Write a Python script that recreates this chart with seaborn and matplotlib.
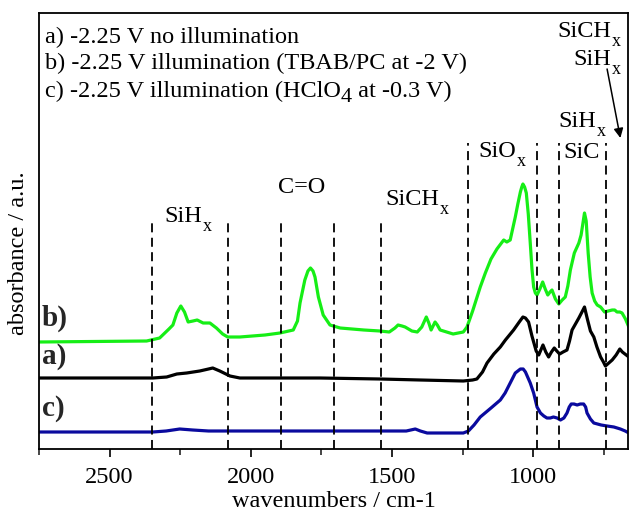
import numpy as np
import pandas as pd
import matplotlib
matplotlib.use("Agg")
import matplotlib.pyplot as plt
from matplotlib.ticker import MultipleLocator, NullLocator
from matplotlib.transforms import IdentityTransform
import seaborn as sns

# ---------------- data ----------------
wn_b = [2752, 2369, 2323, 2290, 2276, 2262, 2248, 2235, 2222, 2205, 2190, 2169, 2145, 2122,
        2100, 2082, 2039, 1950, 1897, 1850, 1835, 1826, 1809, 1798, 1789, 1780, 1773, 1761,
        1744, 1720, 1684, 1600, 1543, 1510, 1490, 1479, 1465, 1454, 1430, 1411, 1395, 1379,
        1370, 1362, 1348, 1340, 1330, 1284, 1248, 1235, 1215, 1206, 1188, 1170, 1150, 1129,
        1105, 1094, 1082, 1064, 1055, 1046, 1041, 1037, 1031, 1025, 1018, 1011, 1005, 999,
        993, 987, 977, 967, 958, 949, 941, 934, 922, 910, 898, 887, 878, 869, 855, 839, 831,
        819, 813, 806, 799, 792, 783, 774, 762, 748, 735, 721, 712, 704, 694, 686, 674, 662]
ab_b = [107, 108, 111, 120, 124, 136, 143, 137, 127, 128, 129, 126, 126, 121,
        115, 112, 112, 114, 116, 119, 128, 146, 169, 178, 181, 178, 172, 152,
        134, 124, 121, 119, 118, 117, 121, 124, 123, 122, 118, 117, 122, 132,
        126, 119, 127, 124, 119, 115, 117, 122, 138, 146, 162, 176, 190, 200,
        209, 207, 209, 232, 245, 257, 262, 265, 262, 256, 235, 206, 180, 162,
        156, 154, 160, 167, 160, 154, 157, 159, 150, 145, 149, 152, 163, 179, 196, 206, 214,
        236, 228, 196, 172, 156, 148, 144, 142, 137, 138, 139, 139, 137, 137, 136, 130, 122]

wn_a = [2752, 2500, 2347, 2298, 2262, 2227, 2181, 2150, 2135, 2110, 2074, 2039, 1755, 1543,
        1400, 1248, 1215, 1200, 1180, 1164, 1140, 1117, 1099, 1070, 1050, 1037, 1028, 1017,
        1005, 999, 990, 981, 972, 966, 956, 946, 936, 926, 917, 907, 895, 881, 872, 863,
        851, 839, 828, 819, 814, 808, 798, 786, 775, 762, 752, 745, 733, 721, 707, 694, 685, 662]
ab_a = [71, 71, 71, 72, 75, 76, 78, 80, 81, 78, 73, 71, 71, 70,
        69, 68, 69, 70, 77, 86, 95, 102, 109, 119, 127, 132, 131, 127,
        113, 107, 98, 94, 100, 104, 97, 92, 97, 101, 98, 95, 97, 99, 108, 119,
        125, 131, 137, 142, 136, 129, 118, 112, 102, 92, 87, 83, 86, 89, 94, 100, 97, 92]

wn_c = [2752, 2347, 2300, 2252, 2206, 2150, 1755, 1543, 1450, 1418, 1400, 1376, 1248, 1230,
        1210, 1188, 1150, 1117, 1100, 1082, 1064, 1046, 1036, 1028, 1011, 999, 987, 975,
        963, 952, 940, 929, 916, 904, 892, 881, 873, 866, 856, 845, 834, 822, 815, 810,
        798, 786, 760, 739, 715, 692, 675, 662]
ab_c = [17, 17, 18, 20, 19, 18, 18, 18, 18, 20, 18, 16, 16, 18,
        24, 32, 41, 49, 56, 66, 76, 80, 80, 77, 66, 56, 42, 36,
        33, 31, 31, 32, 31, 29, 31, 36, 42, 45, 45, 44, 45, 45, 42, 36,
        30, 26, 24, 23, 22, 20, 18, 16]

series_names = ["a", "b", "c"]
series_colors = {"a": "#000000", "b": "#16ee16", "c": "#0a0a9e"}

# text pieces: (main text, subscript, remainder)
legend_lines = [("a) -2.25 V no illumination", "", ""),
                ("b) -2.25 V illumination (TBAB/PC at -2 V)", "", ""),
                ("c) -2.25 V illumination (HClO", "4", " at -0.3 V)")]

band_labels = [("SiH", "x"), ("C=O", ""), ("SiCH", "x"), ("SiO", "x"),
               ("SiH", "x"), ("SiC", ""), ("SiCH", "x"), ("SiH", "x")]

region_lines_low = [2350, 2080, 1895, 1705, 1540]
region_lines_high = [1232, 988, 910, 742]

xticks_major = [2500, 2000, 1500, 1000]

# ---------------- figure ----------------
sns.set_theme(style="white")
plt.rcParams["font.family"] = ["Liberation Serif", "DejaVu Serif"]

fig = plt.figure(figsize=(6.29, 5.18), dpi=100)
ax = fig.add_axes([39 / 629, (518 - 449) / 518, (628 - 39) / 629, (449 - 13) / 518])

df = pd.concat([
    pd.DataFrame({"wavenumber": wn_a, "absorbance": ab_a, "sample": "a"}),
    pd.DataFrame({"wavenumber": wn_b, "absorbance": ab_b, "sample": "b"}),
    pd.DataFrame({"wavenumber": wn_c, "absorbance": ab_c, "sample": "c"}),
])

for name in series_names:
    sub = df[df["sample"] == name]
    sns.lineplot(data=sub, x="wavenumber", y="absorbance", color=series_colors[name],
                 linewidth=2.3, ax=ax, errorbar=None, sort=False, legend=False)

ax.vlines(region_lines_low, 0, 229, colors="black", linewidth=1.3, linestyles=(0, (5, 3)))
ax.vlines(region_lines_high, 0, 306, colors="black", linewidth=1.3, linestyles=(0, (5, 3)))

ax.set_xlim(2750, 665)
ax.set_ylim(0, 436)

ax.xaxis.set_major_locator(plt.FixedLocator(xticks_major))
ax.xaxis.set_minor_locator(MultipleLocator(250))
ax.yaxis.set_major_locator(NullLocator())
ax.tick_params(axis="x", which="major", direction="out", length=6, width=1.2,
               labelsize=17.5, pad=7, colors="black", bottom=True, top=False)
ax.tick_params(axis="x", which="minor", direction="out", length=4, width=1.2,
               bottom=True, top=False)
for s in ax.spines.values():
    s.set_color("black")
    s.set_linewidth(1.3)

ax.set_xlabel("wavenumbers / cm-1", fontsize=17.5, color="black", labelpad=2)
ax.set_ylabel("absorbance / a.u.", fontsize=17.5, color="black")
ax.yaxis.set_label_coords(-0.017, 0.45)

fig.canvas.draw()
renderer = fig.canvas.get_renderer()


def seq_text(xw, h, main, sub="", rest="", size=17.5, sub_size=13, sub_dy=-9):
    """Lay out main text, a lowered subscript and an optional remainder."""
    px, py = ax.transData.transform((xw, h))
    t = fig.text(px, py, main, transform=IdentityTransform(), fontsize=size,
                 va="baseline", ha="left", color="black")
    px += t.get_window_extent(renderer).width
    if sub:
        t2 = fig.text(px + 0.5, py + sub_dy, sub, transform=IdentityTransform(),
                      fontsize=sub_size, va="baseline", ha="left", color="black")
        px += t2.get_window_extent(renderer).width + 0.5
    if rest:
        fig.text(px, py, rest, transform=IdentityTransform(), fontsize=size,
                 va="baseline", ha="left", color="black")


# legend-like text block
for (m, s, r), h in zip(legend_lines, [406, 380, 352]):
    seq_text(2730, h, m, s, r, sub_size=16, sub_dy=-5)

# curve labels
ax.text(2741, 123, "b)", fontsize=21, fontweight="bold", va="baseline", ha="left")
ax.text(2741, 85, "a)", fontsize=21, fontweight="bold", va="baseline", ha="left")
ax.text(2741, 33, "c)", fontsize=21, fontweight="bold", va="baseline", ha="left")

# band annotations
band_pos = [(2305, 227), (1904, 256), (1525, 244), (1195, 292),
            (911, 322), (894, 291), (915, 412), (858, 384)]
for (xw, h), (m, s) in zip(band_pos, band_labels):
    seq_text(xw, h, m, s)

ax.annotate("", xy=(692, 311), xytext=(739, 380),
            arrowprops=dict(arrowstyle="-|>", color="black", lw=1.1,
                            mutation_scale=14, shrinkA=0, shrinkB=0))

fig.savefig("out.png", dpi=100)
